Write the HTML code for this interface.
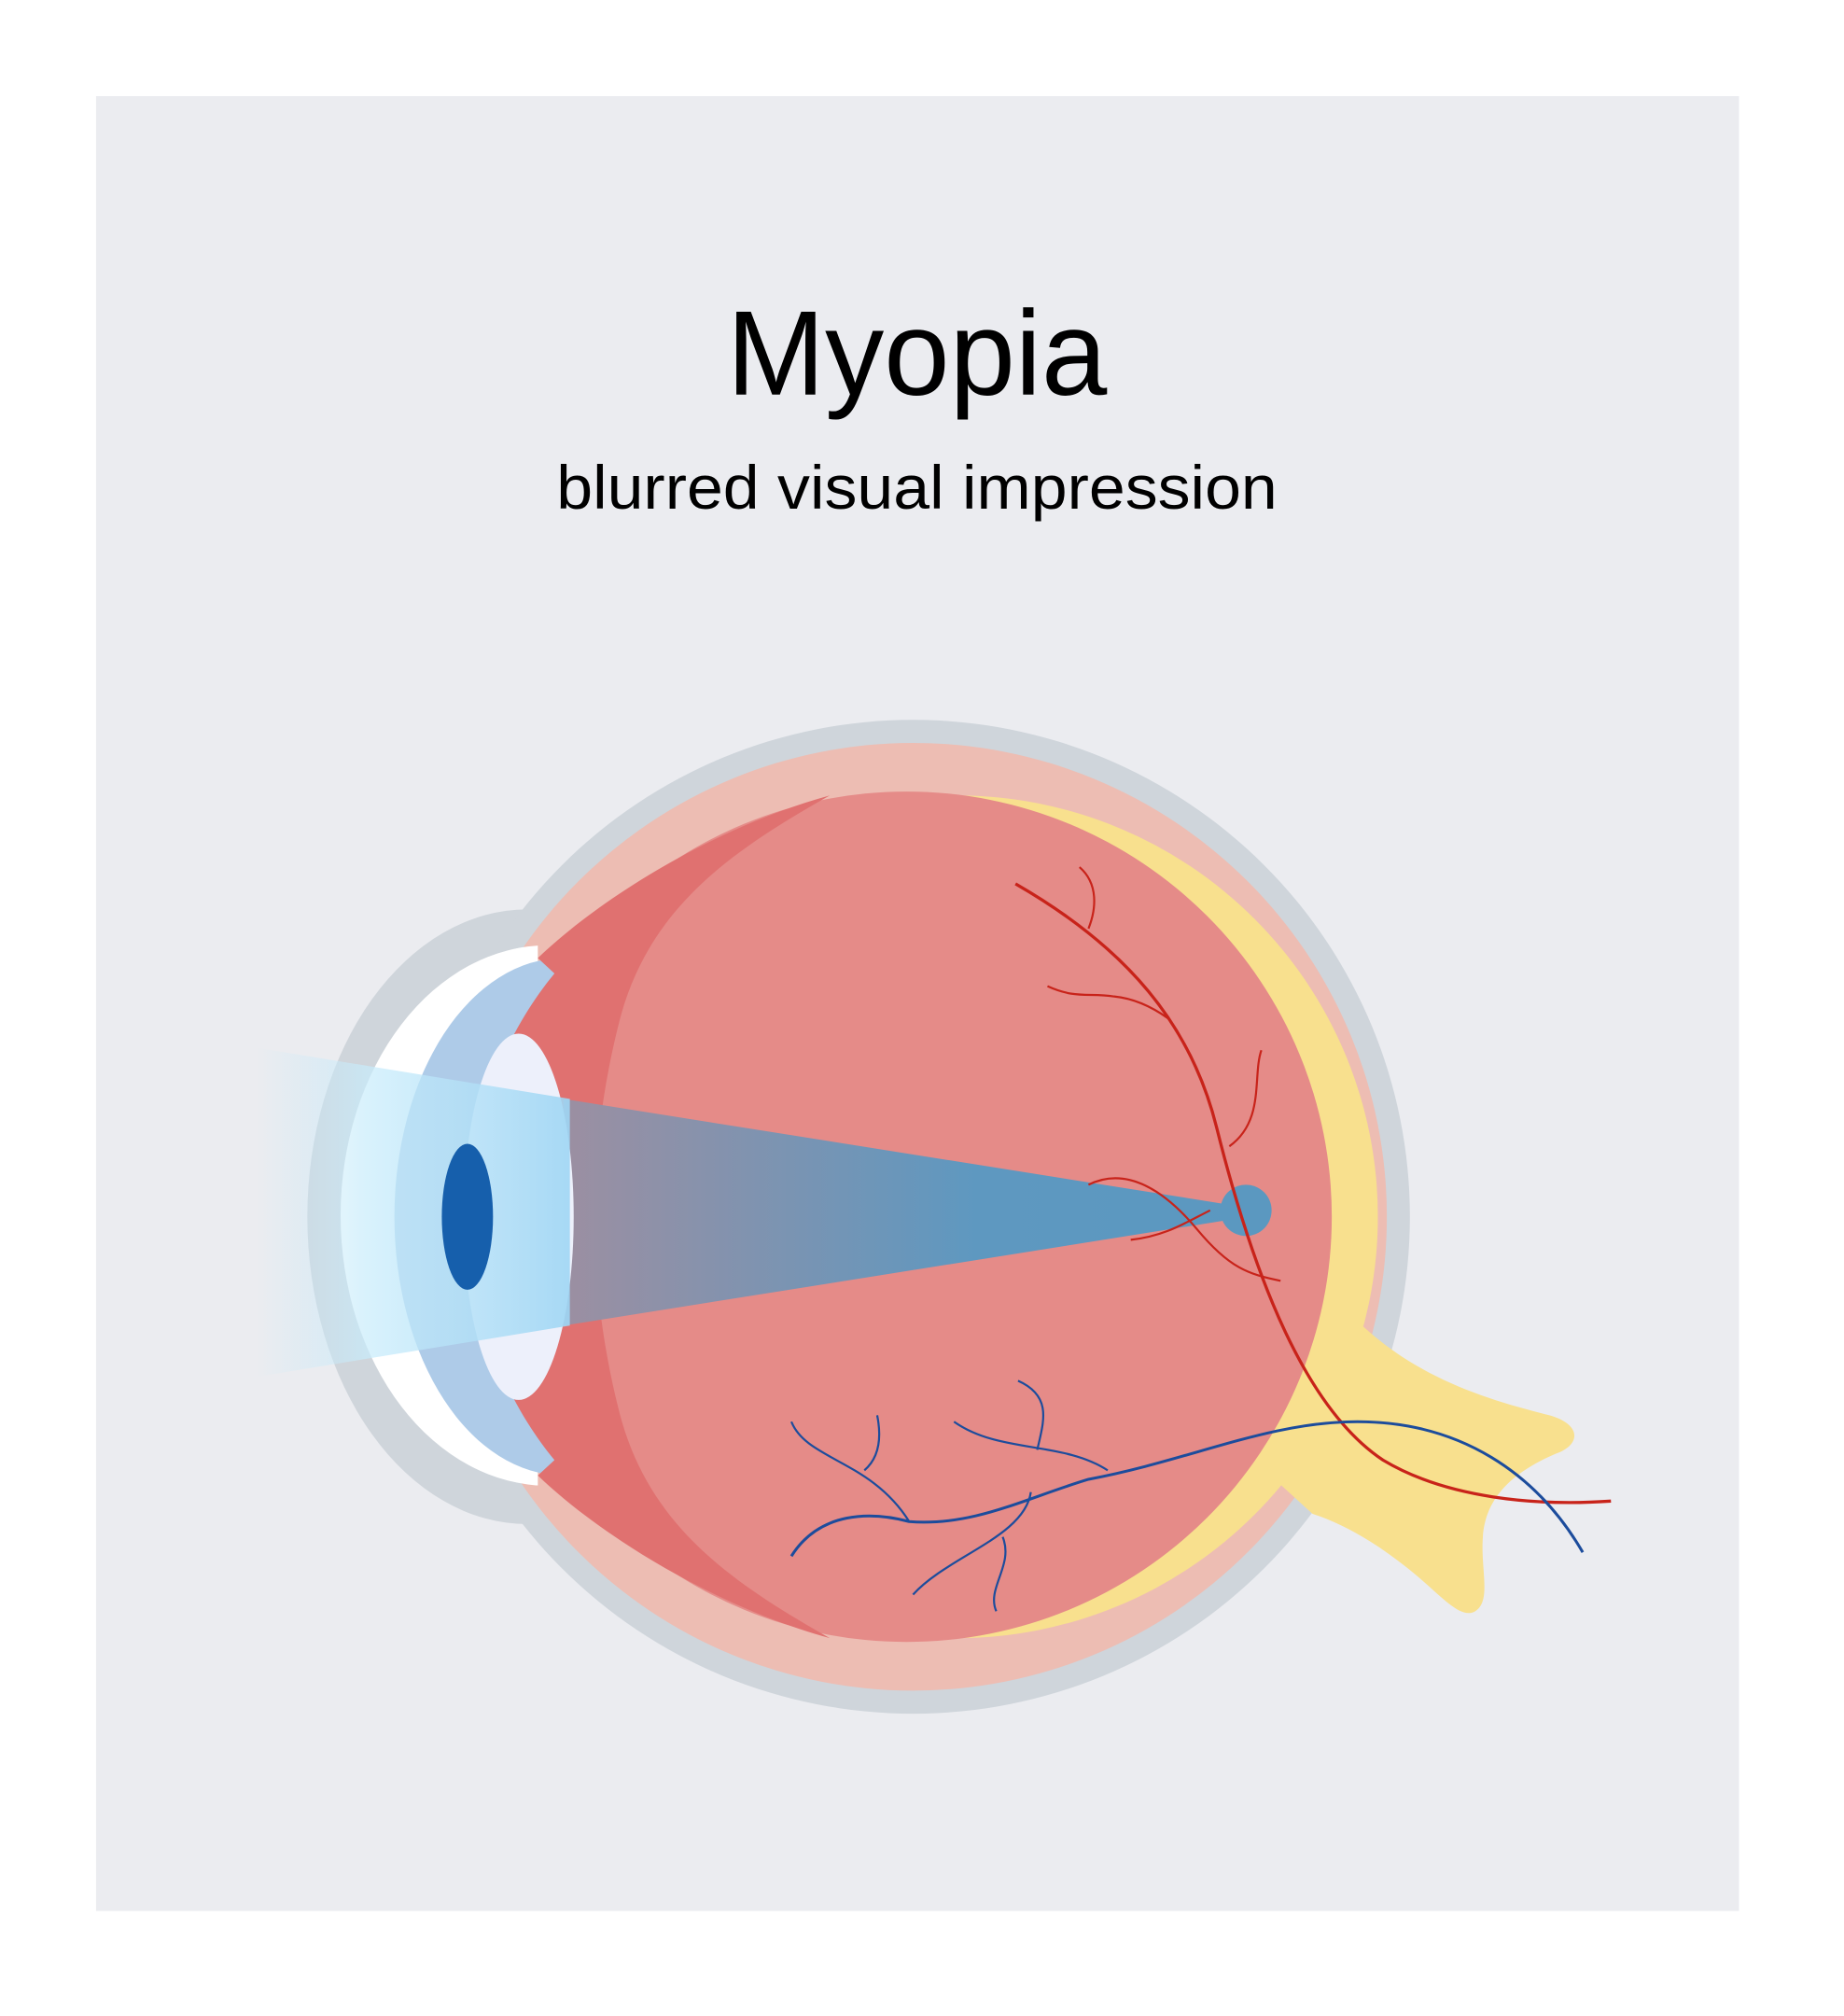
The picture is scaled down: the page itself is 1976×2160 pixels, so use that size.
<!DOCTYPE html>
<html><head><meta charset="utf-8"><style>
html,body{margin:0;padding:0;background:#fff;}
svg{display:block;}
</style></head><body>
<svg width="1976" height="2160" viewBox="0 0 1440 1574" xmlns="http://www.w3.org/2000/svg">
<defs>
<linearGradient id="bl" x1="200" y1="0" x2="445" y2="0" gradientUnits="userSpaceOnUse">
<stop offset="0" stop-color="#c8e8f8" stop-opacity="0"/>
<stop offset="0.35" stop-color="#c8ecfb" stop-opacity="0.7"/>
<stop offset="1" stop-color="#9fd6f4" stop-opacity="0.9"/>
</linearGradient>
<linearGradient id="br" x1="445" y1="0" x2="975" y2="0" gradientUnits="userSpaceOnUse">
<stop offset="0" stop-color="#9b8fa2"/>
<stop offset="0.6" stop-color="#5e98c0"/>
<stop offset="1" stop-color="#5b98c0"/>
</linearGradient>
<clipPath id="lc"><rect x="0" y="0" width="420" height="1574"/></clipPath>
</defs>
<rect x="0" y="0" width="1440" height="1574" fill="#fff"/>
<rect x="75" y="75" width="1283" height="1417" fill="#ebecf0"/>
<text x="716" y="308" text-anchor="middle" font-family="Liberation Sans, sans-serif" font-size="94" fill="#000" textLength="297" lengthAdjust="spacingAndGlyphs">Myopia</text>
<text x="716" y="397" text-anchor="middle" font-family="Liberation Sans, sans-serif" font-size="48" fill="#000" textLength="563" lengthAdjust="spacingAndGlyphs">blurred visual impression</text>

<ellipse cx="412" cy="950" rx="172" ry="240" fill="#cfd5db"/>
<circle cx="713" cy="950" r="388" fill="#cfd5db"/>
<circle cx="713" cy="950" r="370" fill="#edbdb3"/>
<g clip-path="url(#lc)">
<ellipse cx="428" cy="949" rx="162" ry="211" fill="#ffffff"/>
</g>
<ellipse cx="440" cy="950" rx="132" ry="202" fill="#aecbe8"/>
<!-- optic nerve -->
<path d="M1040,1010 C1090,1070 1150,1090 1210,1105 C1235,1112 1235,1128 1215,1135 C1180,1150 1160,1170 1158,1200 C1156,1225 1165,1250 1152,1258 C1140,1265 1125,1245 1100,1225 C1075,1205 1050,1190 1025,1182 L990,1150 Z" fill="#f8e08e"/>
<!-- yellow retina crescent -->
<circle cx="747" cy="950" r="329" fill="#f8e08e"/>
<circle cx="708" cy="950" r="332" fill="#e58b88"/>
<path d="M648,621 C560,645 470,700 420,748 L433,760 C400,800 370,860 362,950 C370,1040 400,1100 433,1140 L420,1152 C470,1200 560,1255 648,1279 C570,1235 505,1190 483,1100 C458,1000 458,900 483,800 C505,710 570,665 648,621 Z" fill="#e07170"/>
<polygon points="440,858 975,943 975,950 440,1035" fill="url(#br)"/>
<ellipse cx="405" cy="950" rx="43" ry="143" fill="#edf0fb"/>
<polygon points="200,818 445,858 445,1035 200,1075" fill="url(#bl)"/>
<ellipse cx="365" cy="950" rx="20" ry="57" fill="#165fac"/>
<circle cx="973" cy="945" r="20" fill="#5b98c0"/>

<g fill="none" stroke="#c8231a" stroke-width="1.6">
<path d="M793,690 C880,740 930,800 950,880 C980,1000 1020,1100 1080,1140 C1130,1170 1200,1176 1258,1172" stroke-width="2.4"/>
<path d="M843,677 C858,690 856,710 850,725"/>
<path d="M818,770 C840,780 850,775 870,778 C890,780 905,790 912,795"/>
<path d="M985,820 C978,840 988,875 960,895"/>
<path d="M850,925 C880,910 910,930 935,960 C960,990 975,995 1000,1000"/>
<path d="M883,968 C910,965 925,955 945,945"/>
</g>
<g fill="none" stroke="#1c4c9c" stroke-width="1.6">
<path d="M618,1215 C640,1180 680,1180 710,1188 C760,1192 800,1170 850,1155 C930,1140 990,1110 1060,1110 C1140,1110 1200,1150 1236,1212" stroke-width="2.2"/>
<path d="M618,1110 C630,1140 680,1140 710,1188"/>
<path d="M685,1105 C690,1130 682,1142 675,1148"/>
<path d="M745,1110 C780,1135 830,1125 865,1148"/>
<path d="M795,1078 C822,1090 815,1110 810,1132"/>
<path d="M713,1245 C740,1215 800,1200 805,1165"/>
<path d="M783,1200 C792,1222 770,1240 778,1258"/>
</g>
</svg>
</body></html>
